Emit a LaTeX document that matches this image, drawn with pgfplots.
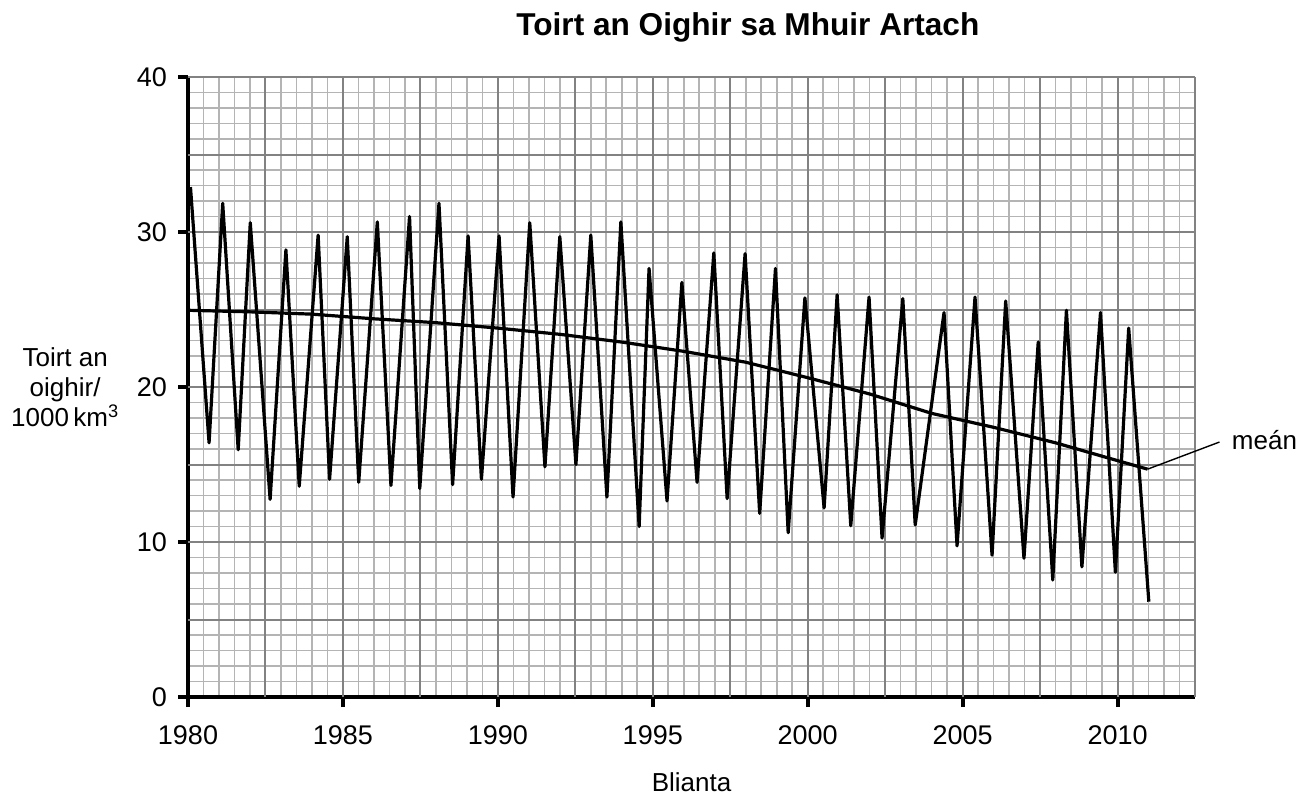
\documentclass[border=0pt]{standalone}
\usepackage{fontspec}
\setmainfont{Liberation Sans}
\usepackage{pgfplots}
\pgfplotsset{compat=1.18}
\definecolor{gminor}{RGB}{180,180,180}
\definecolor{gmajor}{RGB}{130,130,130}
\begin{document}
\begin{tikzpicture}
\useasboundingbox (-94pt,-51pt) rectangle (561pt,348.5pt);
\begin{axis}[
  at={(0pt,0pt)}, anchor=south west,
  scale only axis, width=503.5pt, height=310pt,
  xmin=1980, xmax=2012.5, ymin=0, ymax=40,
  axis x line*=bottom, axis y line*=left,
  axis line style={black, line width=2pt},
  every outer x axis line/.append style={black, line width=2pt},
  every outer y axis line/.append style={black, line width=2pt},
  xtick={1980,1985,...,2010}, ytick={0,10,...,40},
  minor xtick={1980.5,1981,...,2012.5},
  minor ytick={1,2,...,40},
  extra x ticks={1982.5,1985,...,2012.5},
  extra y ticks={5,10,...,40},
  extra x tick labels={}, extra y tick labels={},
  extra tick style={grid=major, major tick length=0pt},
  grid=minor,
  minor grid style={gminor, line width=0.8pt},
  major grid style={gmajor, line width=1pt},
  tick align=outside,
  major tick length=5pt, minor tick length=0pt,
  tick style={black, line width=2pt},
  tick label style={font=\fontsize{13.5}{15}\selectfont},
  xticklabel style={yshift=-6pt},
  yticklabel style={xshift=-2pt},
  /pgf/number format/assume math mode=true,
  /pgf/number format/1000 sep={},
  xlabel={Blianta},
  xlabel style={at={(axis description cs:0.5,-0.137)}, anchor=center, font=\fontsize{13}{15}\selectfont},
  ylabel={Toirt an\\oighir/\\1000\,km\textsuperscript{3}},
  ylabel style={rotate=-90, at={(axis description cs:-0.122,0.5)}, anchor=center, align=center, font=\fontsize{13}{15}\selectfont},
  title={Toirt an Oighir sa Mhuir Artach},
  title style={at={(axis description cs:0.556,1.0468)}, anchor=base, font=\bfseries\fontsize{15.8}{18}\selectfont},
  clip=false,
]
\addplot[black, line width=1.6pt, line join=round] table {
1980.08 32.9
1980.68 16.4
1981.12 31.85
1981.62 15.95
1982.01 30.6
1982.65 12.75
1983.16 28.85
1983.59 13.6
1984.20 29.8
1984.57 14.05
1985.14 29.7
1985.51 13.85
1986.11 30.65
1986.55 13.65
1987.15 31.0
1987.48 13.45
1988.10 31.85
1988.54 13.7
1989.04 29.75
1989.47 14.05
1990.04 29.75
1990.49 12.9
1991.03 30.6
1991.52 14.85
1992.00 29.7
1992.52 15.0
1993.00 29.8
1993.52 12.9
1993.97 30.65
1994.56 11.0
1994.88 27.65
1995.46 12.65
1995.94 26.75
1996.43 13.85
1996.97 28.65
1997.40 12.8
1997.98 28.6
1998.45 11.85
1998.96 27.65
1999.37 10.6
1999.91 25.75
2000.53 12.2
2000.95 25.95
2001.39 11.05
2001.98 25.8
2002.40 10.25
2003.07 25.7
2003.47 11.1
2004.40 24.8
2004.82 9.75
2005.40 25.8
2005.95 9.15
2006.39 25.55
2006.98 8.95
2007.44 22.9
2007.91 7.55
2008.35 24.95
2008.85 8.4
2009.45 24.8
2009.93 8.05
2010.36 23.8
2011.01 6.15
};
\addplot[black, line width=1.6pt, line join=round] table {
1980 24.95
1982 24.85
1984 24.7
1986 24.4
1988 24.15
1990 23.8
1992 23.4
1994 22.9
1996 22.3
1998 21.6
2000 20.6
2002 19.55
2004 18.3
2006 17.4
2008 16.4
2010 15.25
2010.97 14.7
};
\draw[black, line width=0.7pt] (axis cs:2010.97,14.7) -- (axis cs:2013.29,16.45);
\node[anchor=base west, inner sep=0pt, font=\fontsize{13}{15}\selectfont] at (axis cs:2013.68,15.94) {meán};
\end{axis}
\end{tikzpicture}
\end{document}
